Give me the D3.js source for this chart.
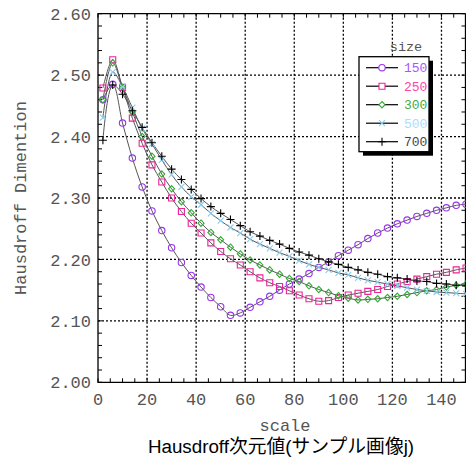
<!DOCTYPE html>
<html>
<head>
<meta charset="utf-8">
<script src="https://cdn.jsdelivr.net/npm/d3@7"></script>
<style>
    body { margin: 0; background: #fff; }
    text { font-family: "Liberation Mono", "DejaVu Sans Mono", monospace; }
</style>
</head>
<body>
<div id="chart"></div>
<script>
// scale values (x) where every series was measured
const scales = [2, 6, 10, 14, 18, 22, 26, 30, 34, 38, 42, 46, 50, 54, 58, 62, 66, 70, 74,
    78, 82, 86, 90, 94, 98, 102, 106, 110, 114, 118, 122, 126, 130, 134, 138, 142, 146, 150];

// image sizes shown in the legend
const sizes = ["150", "250", "300", "500", "700"];

// Hausdorff dimension per size
const dim150 = [2.460, 2.485, 2.422, 2.365, 2.318, 2.279, 2.247, 2.219, 2.195, 2.174, 2.155, 2.138,
    2.123, 2.109, 2.113, 2.122, 2.131, 2.140, 2.150, 2.160, 2.168, 2.177, 2.187, 2.196, 2.206,
    2.215, 2.224, 2.234, 2.243, 2.251, 2.258, 2.264, 2.270, 2.275, 2.280, 2.284, 2.288, 2.290];
const dim250 = [2.479, 2.525, 2.480, 2.430, 2.389, 2.354, 2.326, 2.300, 2.278, 2.259, 2.243, 2.227,
    2.213, 2.201, 2.191, 2.180, 2.170, 2.162, 2.156, 2.149, 2.142, 2.136, 2.132, 2.133, 2.138,
    2.142, 2.145, 2.148, 2.151, 2.156, 2.160, 2.164, 2.168, 2.172, 2.176, 2.179, 2.183, 2.186];
const dim300 = [2.460, 2.520, 2.480, 2.440, 2.400, 2.368, 2.339, 2.315, 2.294, 2.276, 2.259, 2.244,
    2.232, 2.220, 2.209, 2.199, 2.191, 2.183, 2.176, 2.169, 2.164, 2.157, 2.151, 2.146, 2.141,
    2.137, 2.134, 2.135, 2.136, 2.138, 2.140, 2.143, 2.146, 2.149, 2.151, 2.155, 2.158, 2.160];
const dim500 = [2.431, 2.505, 2.481, 2.447, 2.413, 2.388, 2.362, 2.338, 2.318, 2.302, 2.289, 2.275,
    2.263, 2.252, 2.243, 2.233, 2.225, 2.218, 2.211, 2.205, 2.198, 2.192, 2.187, 2.183, 2.178,
    2.175, 2.170, 2.166, 2.163, 2.160, 2.157, 2.154, 2.151, 2.149, 2.147, 2.146, 2.145, 2.144];
const dim700 = [2.394, 2.484, 2.469, 2.442, 2.415, 2.390, 2.368, 2.347, 2.330, 2.314, 2.299, 2.286,
    2.275, 2.265, 2.255, 2.245, 2.238, 2.231, 2.225, 2.218, 2.212, 2.207, 2.201, 2.196, 2.192,
    2.187, 2.183, 2.179, 2.176, 2.172, 2.170, 2.168, 2.165, 2.164, 2.161, 2.160, 2.158, 2.157];

// tick labels
const xTickLabels = [0, 20, 40, 60, 80, 100, 120, 140];
const yTickLabels = [2.0, 2.1, 2.2, 2.3, 2.4, 2.5, 2.6];

const seriesValues = [dim150, dim250, dim300, dim500, dim700];

// marker look per series
const markerShapes = ["circle", "square", "diamond", "times", "plus"];
const markerColors = ["#9933ee", "#ee2299", "#33aa33", "#88ccee", "#000000"];
const legendTextColors = ["#aa55ff", "#ff44aa", "#44aa44", "#aaddff", "#444444"];

const width = 466, height = 461;
const plotLeft = 98, plotRight = 466, plotTop = 13.7, plotBottom = 382.3;

const svg = d3.select("#chart").append("svg")
    .attr("width", width)
    .attr("height", height);

const x = d3.scaleLinear().domain([0, 150]).range([plotLeft, plotRight]);
const y = d3.scaleLinear().domain([2.0, 2.6]).range([plotBottom, plotTop]);

// dotted grid at the labelled ticks
svg.append("g").selectAll("line")
    .data(xTickLabels.filter(d => d > 0))
    .join("line")
    .attr("x1", d => x(d)).attr("x2", d => x(d))
    .attr("y1", plotTop).attr("y2", plotBottom)
    .attr("stroke", "#000").attr("stroke-width", 1.3)
    .attr("stroke-dasharray", "2,2");

svg.append("g").selectAll("line")
    .data(yTickLabels.filter(d => d > 2.0 && d < 2.6))
    .join("line")
    .attr("x1", plotLeft).attr("x2", plotRight)
    .attr("y1", d => y(d)).attr("y2", d => y(d))
    .attr("stroke", "#000").attr("stroke-width", 1.3)
    .attr("stroke-dasharray", "2,2");

// small inward ticks on all four sides
const tickLen = 4;
const ticks = svg.append("g").attr("stroke", "#000").attr("stroke-width", 1);
x.ticks(30).forEach(d => {
    ticks.append("line").attr("x1", x(d)).attr("x2", x(d)).attr("y1", plotBottom).attr("y2", plotBottom - tickLen);
    ticks.append("line").attr("x1", x(d)).attr("x2", x(d)).attr("y1", plotTop).attr("y2", plotTop + tickLen);
});
y.ticks(30).forEach(d => {
    ticks.append("line").attr("x1", plotLeft).attr("x2", plotLeft + tickLen).attr("y1", y(d)).attr("y2", y(d));
    ticks.append("line").attr("x1", plotRight - 0.5).attr("x2", plotRight - 0.5 - tickLen).attr("y1", y(d)).attr("y2", y(d));
});

// frame
svg.append("path")
    .attr("d", `M${plotRight - 0.5},${plotTop}H${plotLeft}V${plotBottom}H${plotRight - 0.5}V${plotTop}`)
    .attr("fill", "none").attr("stroke", "#000").attr("stroke-width", 1.3);

// tick labels
svg.append("g").selectAll("text")
    .data(yTickLabels)
    .join("text")
    .attr("x", plotLeft - 7)
    .attr("y", d => y(d))
    .attr("dy", "0.36em")
    .attr("text-anchor", "end")
    .attr("font-size", 17)
    .attr("fill", "#555")
    .text(d => d.toFixed(2));

svg.append("g").selectAll("text")
    .data(xTickLabels)
    .join("text")
    .attr("x", d => x(d))
    .attr("y", 405)
    .attr("text-anchor", "middle")
    .attr("font-size", 17)
    .attr("fill", "#555")
    .text(d => d);

// axis titles
svg.append("text")
    .attr("x", 285).attr("y", 430.5)
    .attr("text-anchor", "middle")
    .attr("font-size", 17)
    .attr("fill", "#555")
    .text("scale");

svg.append("text")
    .attr("transform", "translate(26,198) rotate(-90)")
    .attr("text-anchor", "middle")
    .attr("font-size", 17)
    .attr("fill", "#555")
    .text("Hausdroff Dimention");

svg.append("text")
    .attr("x", 281).attr("y", 452.5)
    .attr("text-anchor", "middle")
    .attr("font-size", 18.8)
    .attr("fill", "#000")
    .style("font-family", "'Liberation Sans', 'Noto Sans CJK JP', sans-serif")
    .text("Hausdroff次元値(サンプル画像j)");

// marker paths
function markerPath(shape) {
    if (shape === "circle") return "M3.2,0A3.2,3.2 0 1,1 -3.2,0A3.2,3.2 0 1,1 3.2,0Z";
    if (shape === "square") return "M-3,-3H3V3H-3Z";
    if (shape === "diamond") return "M0,-3.2L3,0L0,3.2L-3,0Z";
    if (shape === "times") return "M-3,-3L3,3M-3,3L3,-3";
    return "M-4,0H4M0,-4V4";
}

const line = d3.line()
    .x((d, i) => x(scales[i]))
    .y(d => y(d))
    .curve(d3.curveCatmullRom);

// curves first, markers on top
seriesValues.forEach(values => {
    svg.append("path")
        .attr("d", line(values))
        .attr("fill", "none")
        .attr("stroke", "#555")
        .attr("stroke-width", 1);
});

seriesValues.forEach((values, s) => {
    svg.append("g").selectAll("path")
        .data(values)
        .join("path")
        .attr("transform", (d, i) => `translate(${x(scales[i])},${y(d)})`)
        .attr("d", markerPath(markerShapes[s]))
        .attr("fill", "none")
        .attr("stroke", markerColors[s])
        .attr("stroke-width", 1.1);
});

// legend box with shadow
const legend = svg.append("g");
legend.append("rect")
    .attr("x", 363).attr("y", 60.7).attr("width", 70).attr("height", 95)
    .attr("fill", "#000");
legend.append("rect")
    .attr("x", 359).attr("y", 56.7).attr("width", 70).attr("height", 95)
    .attr("fill", "#fff").attr("stroke", "#000").attr("stroke-width", 1.3);

legend.append("text")
    .attr("x", 406).attr("y", 51)
    .attr("text-anchor", "middle")
    .attr("font-size", 13.5)
    .attr("fill", "#555")
    .text("size");

sizes.forEach((label, i) => {
    const rowY = 67.7 + i * 18.5;
    legend.append("line")
        .attr("x1", 366).attr("x2", 398)
        .attr("y1", rowY).attr("y2", rowY)
        .attr("stroke", "#000").attr("stroke-width", 1.2);
    legend.append("path")
        .attr("transform", `translate(382,${rowY})`)
        .attr("d", markerPath(markerShapes[i]))
        .attr("fill", "#fff")
        .attr("stroke", markerColors[i])
        .attr("stroke-width", 1.1);
    legend.append("text")
        .attr("x", 404).attr("y", rowY)
        .attr("dy", "0.36em")
        .attr("font-size", 13)
        .attr("fill", legendTextColors[i])
        .text(label);
});
</script>
</body>
</html>
